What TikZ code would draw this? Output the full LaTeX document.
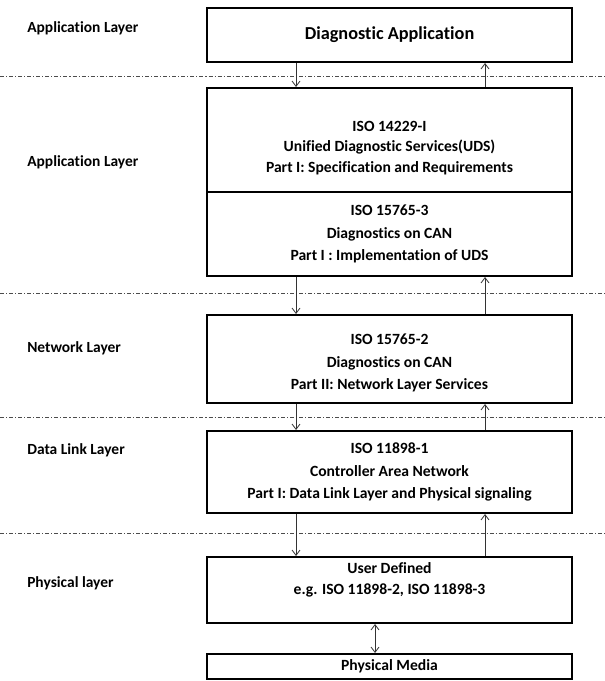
\documentclass[tikz,border=0pt]{standalone}
\usepackage{fontspec}
\setmainfont{Carlito}[Ligatures=NoCommon]
\usetikzlibrary{arrows.meta,positioning}

\begin{document}
\begin{tikzpicture}[x=.75pt,y=-.75pt,>={Straight Barb[length=4pt,width=6pt]},
  layer/.style={draw,rectangle,line width=1.5pt,minimum width=273.75pt,inner sep=0pt,align=center,font=\bfseries\fontsize{11.7}{17}\selectfont},
  inside/.style={inner sep=0pt,align=center,font=\bfseries\fontsize{11.7}{15.5}\selectfont},
  tag/.style={anchor=west,inner sep=0pt,font=\bfseries\fontsize{11.6}{13}\selectfont},
  boundary/.style={line width=.6pt,gray!60!black,dash pattern=on 3pt off 1.5pt on .8pt off 1.5pt},
  flow/.style={line width=.6pt,black!80}]
\useasboundingbox (0,0) rectangle (605,681);
\foreach \y in {76,293,417,533} \draw[boundary] (0,\y) -- (605,\y);
\node[tag] (tapp) at (27,28) {Application Layer};
\node[tag] (tuds) at (27,162) {Application Layer};
\node[tag] (tnet) at (27,348) {Network Layer};
\node[tag] (tdll) at (27,450) {Data Link Layer};
\node[tag] (tphy) at (27,583) {Physical layer};
\node[layer,minimum height=40.5pt,font=\bfseries\fontsize{13.7}{16}\selectfont] (app) at (389.5,35) {Diagnostic Application};
\node[layer,minimum height=78pt,label={[inside,yshift=-6pt]center:{ISO 14229-I\\Unified Diagnostic Services(UDS)\\Part I: Specification and Requirements}}] (uds) at (389.5,140) {};
\node[layer,minimum height=63pt] (cansvc) at (389.5,234) {ISO 15765-3\\Diagnostics on CAN\\Part I : Implementation of UDS};
\node[layer,minimum height=66pt,label={[inside,font=\bfseries\fontsize{11.7}{17}\selectfont,yshift=-3pt]center:{ISO 15765-2\\Diagnostics on CAN\\Part II: Network Layer Services}}] (net) at (389.5,359) {};
\node[layer,minimum height=61.5pt] (dll) at (389.5,472) {ISO 11898-1\\Controller Area Network\\Part I: Data Link Layer and Physical signaling};
\node[layer,minimum height=49.5pt,label={[inside,yshift=7.5pt]center:{User Defined\\e.g. ISO 11898-2, ISO 11898-3}}] (phy) at (389.5,590) {};
\node[layer,minimum height=18.75pt] (media) at (389.5,666.5) {Physical Media};
\coordinate (dn) at (296,0);
\coordinate (up) at (485,0);
\coordinate (bi) at (375,0);
\foreach \hi/\lo in {app/uds,cansvc/net,net/dll,dll/phy}{
  \draw[flow,->] (\hi.south-|dn) -- (\lo.north-|dn);
  \draw[flow,->] (\lo.north-|up) -- (\hi.south-|up);
}
\draw[flow,<->] (phy.south-|bi) -- (media.north-|bi);
\end{tikzpicture}
\end{document}
